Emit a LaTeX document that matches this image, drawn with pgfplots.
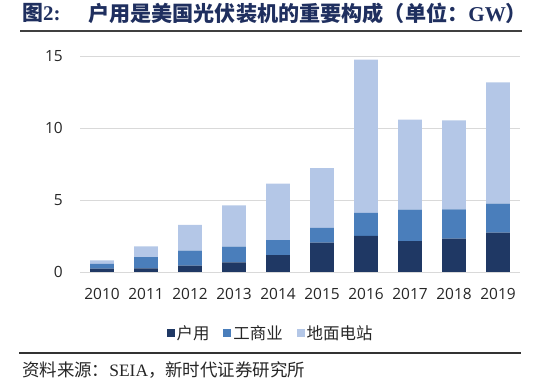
\documentclass[border=0pt]{standalone}
\usepackage{pgfplots}
\pgfplotsset{compat=1.18}
\usepackage{fontspec}
\setmainfont{Open Sans}
\newfontfamily\cjk{Noto Sans CJK SC}
\newfontfamily\serif{Liberation Serif}
\definecolor{cA}{HTML}{1F3864}
\definecolor{cB}{HTML}{4A7EBB}
\definecolor{cC}{HTML}{B4C7E7}
\definecolor{navy}{HTML}{1F2F5F}
\definecolor{txt}{HTML}{262626}
\begin{document}
\begin{tikzpicture}
\path[use as bounding box] (0,0) rectangle (543bp,386bp);
\begin{axis}[
  at={(80bp,114bp)}, anchor=south west,
  scale only axis, width=440bp, height=216bp,
  xmin=-0.5, xmax=9.5, ymin=0, ymax=15,
  ybar stacked, bar width=23.6bp,
  axis line style={draw=none},
  major tick length=0pt,
  xtick={0,...,9},
  xticklabels={2010,2011,2012,2013,2014,2015,2016,2017,2018,2019},
  ytick={0,5,10,15},
  ymajorgrids, major grid style={draw=black!15, line width=0.9bp},
  /pgf/number format/assume math mode=true,
  tick label style={font=\fontsize{15.5}{18}\selectfont, text=txt},
  xticklabel style={inner sep=0pt, yshift=-16bp},
  yticklabel style={inner sep=0pt, xshift=-17bp},
  legend style={at={(0.433,-0.282)}, anchor=center, draw=none, fill=none,
    font=\cjk\fontsize{16.5}{18}\selectfont, text=txt,
    /tikz/every even column/.append style={column sep=12bp}},
  legend columns=-1,
  legend image code/.code={\fill[#1,draw=none] (0bp,-4bp) rectangle (8bp,4bp);},
]
\addplot[fill=cA, draw=none] coordinates {(0,0.23) (1,0.26) (2,0.44) (3,0.67) (4,1.18) (5,2.04) (6,2.50) (7,2.15) (8,2.32) (9,2.73)};
\addplot[fill=cB, draw=none] coordinates {(0,0.33) (1,0.78) (2,1.04) (3,1.09) (4,1.04) (5,1.02) (6,1.60) (7,2.18) (8,2.03) (9,2.02)};
\addplot[fill=cC, draw=none] coordinates {(0,0.25) (1,0.74) (2,1.79) (3,2.87) (4,3.92) (5,4.16) (6,10.65) (7,6.25) (8,6.18) (9,8.42)};
\legend{户用,工商业,地面电站}
\end{axis}
\node[anchor=west, inner sep=0pt, text=navy] at (22bp,373bp) {\cjk\bfseries\fontsize{21}{23}\selectfont 图{\serif\bfseries 2:}};
\node[anchor=west, inner sep=0pt, text=navy] at (88bp,373bp) {\cjk\bfseries\fontsize{21.2}{23}\selectfont 户用是美国光伏装机的重要构成（单位：{\serif\bfseries GW}）};
\draw[line width=1.5bp, draw=black!75] (20bp,355bp) -- (522bp,355bp);
\draw[line width=1.2bp, draw=black!80] (19bp,33bp) -- (521bp,33bp);
\node[anchor=west, inner sep=0pt, text=txt] at (22bp,16bp) {\cjk\fontsize{17.5}{19}\selectfont 资料来源：{\serif SEIA}，新时代证券研究所};
\end{tikzpicture}
\end{document}
